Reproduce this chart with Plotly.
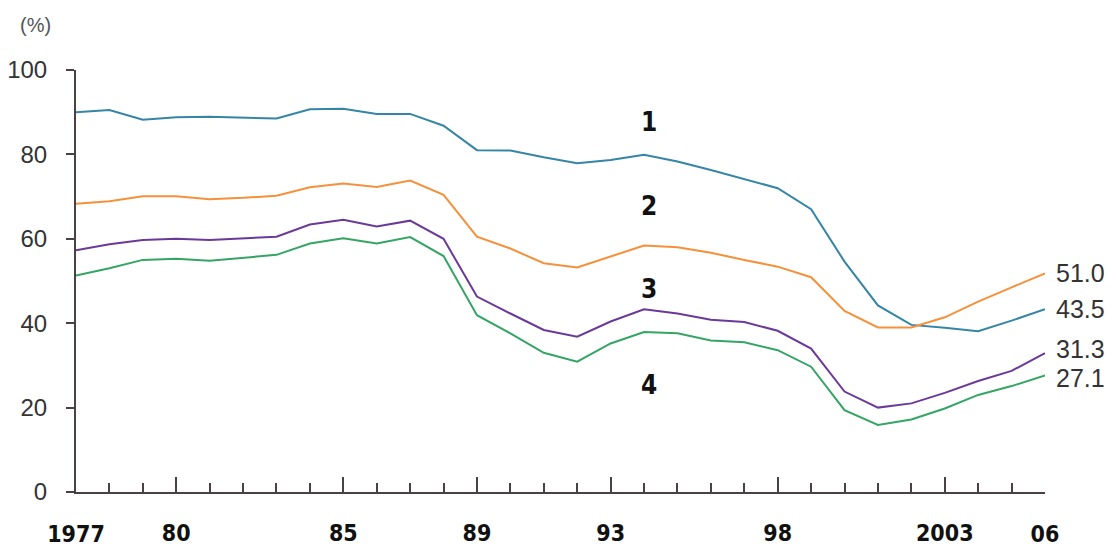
import plotly.graph_objects as go

years = list(range(1977, 2007))

series1 = [90.0, 90.5, 88.2, 88.8, 88.9, 88.7, 88.5, 90.7, 90.8, 89.6,
           89.6, 86.8, 81.0, 80.9, 79.3, 77.9, 78.7, 79.9, 78.3, 76.3,
           74.1, 72.0, 67.0, 54.6, 44.2, 39.6, 38.9, 38.1, 40.6, 43.3]
series2 = [68.3, 68.9, 70.1, 70.1, 69.4, 69.7, 70.2, 72.2, 73.1, 72.3,
           73.8, 70.4, 60.5, 57.7, 54.2, 53.2, 55.8, 58.4, 58.0, 56.7,
           55.0, 53.4, 50.9, 42.9, 39.0, 39.0, 41.4, 45.1, 48.5, 51.8]
series3 = [57.3, 58.7, 59.7, 60.0, 59.7, 60.1, 60.5, 63.4, 64.5, 62.9,
           64.3, 60.0, 46.3, 42.3, 38.4, 36.8, 40.4, 43.3, 42.3, 40.8,
           40.3, 38.2, 34.0, 23.8, 20.0, 21.0, 23.5, 26.3, 28.7, 32.9]
series4 = [51.3, 53.0, 55.0, 55.3, 54.8, 55.5, 56.2, 58.9, 60.1, 58.9,
           60.4, 55.9, 41.9, 37.6, 33.0, 30.9, 35.2, 37.9, 37.6, 35.9,
           35.5, 33.6, 29.7, 19.4, 15.9, 17.2, 19.8, 23.0, 25.1, 27.6]

series_names = ["1", "2", "3", "4"]
end_labels = ["43.5", "51.0", "31.3", "27.1"]
colors = ["#3585a5", "#f5913a", "#6a3a9a", "#35a565"]

major_ticks = [1980, 1985, 1989, 1993, 1998, 2003]
major_labels = ["80", "85", "89", "93", "98", "2003"]
edge_ticks = [1977, 2006]
edge_labels = ["1977", "06"]
y_ticks = [0, 20, 40, 60, 80, 100]

all_series = [series1, series2, series3, series4]

fig = go.Figure()
for vals, name, col in zip(all_series, series_names, colors):
    fig.add_trace(go.Scatter(x=years, y=vals, mode="lines", name=name,
                             line=dict(color=col, width=2), showlegend=False))

# invisible trace on overlay axis for edge labels
fig.add_trace(go.Scatter(x=[years[0], years[-1]], y=[series1[0], series1[-1]],
                         xaxis="x2", mode="lines", line=dict(width=0),
                         hoverinfo="skip", showlegend=False, opacity=0))

axis_color = "#4a4242"
cond_family = "DejaVu Sans Condensed"
tick_font = dict(family=cond_family, size=23, color="#111111", weight="bold")

fig.update_layout(
    width=1118, height=547,
    margin=dict(l=76, r=73, t=70, b=55, autoexpand=False),
    paper_bgcolor="white", plot_bgcolor="white",
    xaxis=dict(range=[1977, 2006], tickmode="array", tickvals=major_ticks,
               ticktext=major_labels, ticks="inside", ticklen=15, tickwidth=2,
               tickcolor=axis_color, showline=True, linecolor=axis_color,
               linewidth=2, showgrid=False, zeroline=False, automargin=False,
               tickfont=tick_font, ticklabelstandoff=19,
               minor=dict(dtick=1, tick0=1977, ticks="inside", ticklen=9,
                          tickwidth=2, tickcolor=axis_color, showgrid=False)),
    xaxis2=dict(range=[1977, 2006], overlaying="x", side="bottom",
                tickmode="array", tickvals=edge_ticks, ticktext=edge_labels,
                ticks="inside", ticklen=9, tickwidth=2, tickcolor=axis_color,
                showline=False, showgrid=False, zeroline=False, automargin=False,
                tickfont=tick_font, ticklabelstandoff=26, anchor="y"),
    yaxis=dict(range=[0, 100], tickvals=y_ticks, ticks="outside", ticklen=8,
               tickwidth=2, tickcolor=axis_color, showline=True,
               linecolor=axis_color, linewidth=2, showgrid=False,
               zeroline=False, ticklabelstandoff=14, automargin=False,
               tickfont=dict(family="Liberation Sans", size=24, color="#333333")),
)

# (%) unit label
fig.add_annotation(xref="paper", yref="paper", x=-0.042, y=1.0, yshift=45,
                   text="(%)", showarrow=False, xanchor="center", yanchor="middle",
                   font=dict(family="Liberation Sans", size=20, color="#555555"))

# series number labels near 1994
label_year = 1994
label_shifts = [33, 40, 20, -53]
for i, (vals, name) in enumerate(zip(all_series, series_names)):
    idx = years.index(label_year)
    fig.add_annotation(x=label_year, y=vals[idx], text=name, showarrow=False,
                       yshift=label_shifts[i], xshift=5,
                       font=dict(family=cond_family, size=26, color="#111111",
                                 weight="bold"))

# end value labels
end_shifts = [0, 0, 4, -2]
for i, (vals, lab) in enumerate(zip(all_series, end_labels)):
    fig.add_annotation(x=years[-1], y=vals[-1], text=lab, showarrow=False,
                       xanchor="left", xshift=9, yshift=end_shifts[i],
                       font=dict(family="Liberation Sans", size=25, color="#333333"))

fig.write_html("out.html", config={"displayModeBar": False},
               post_script="document.body.style.margin='0';document.body.style.overflow='hidden';")
